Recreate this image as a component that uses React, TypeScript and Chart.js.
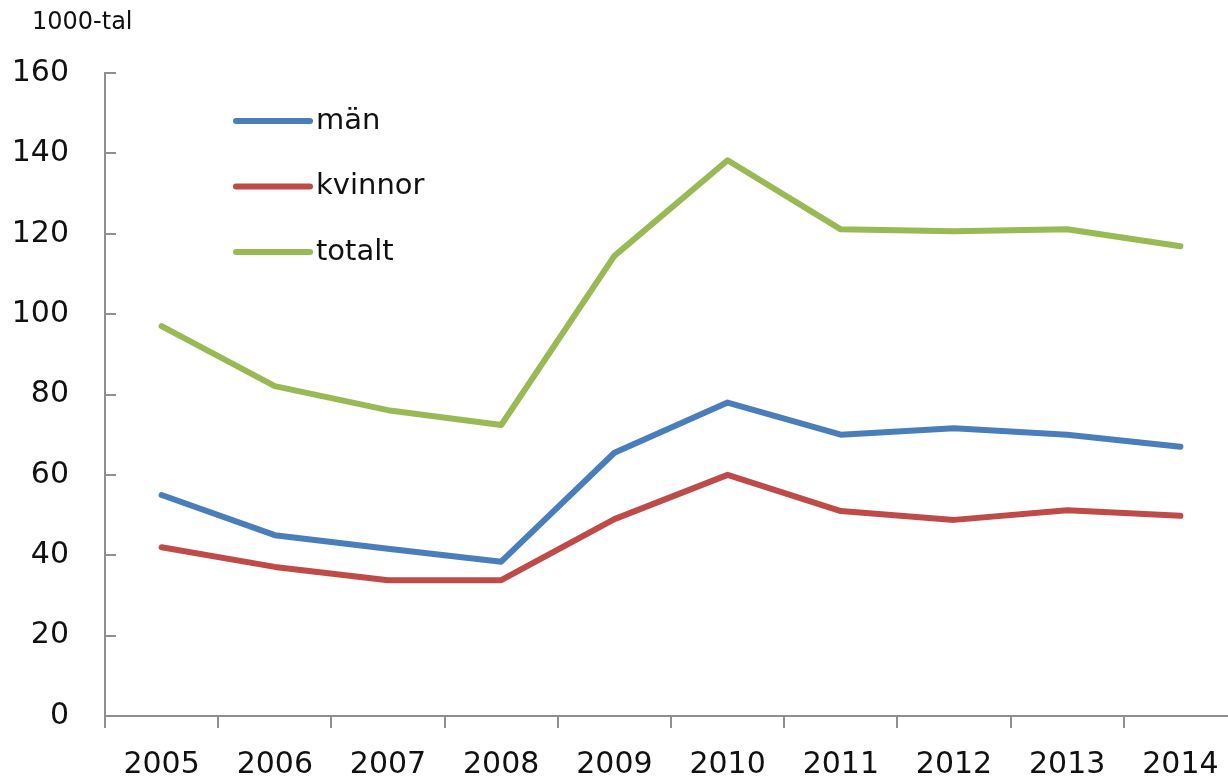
import React, { useEffect, useRef } from "react";
import { Chart, registerables } from "chart.js";

Chart.register(...registerables);

const years = ["2005", "2006", "2007", "2008", "2009", "2010", "2011", "2012", "2013", "2014"];
const man = [55.0, 45.0, 41.6, 38.4, 65.5, 78.0, 70.0, 71.6, 70.0, 67.0];
const kvinnor = [42.0, 37.1, 33.8, 33.8, 49.0, 60.0, 51.0, 48.8, 51.2, 49.8];
const totalt = [97.0, 82.1, 76.1, 72.4, 114.5, 138.3, 121.1, 120.6, 121.1, 116.9];
const seriesLabels = ["män", "kvinnor", "totalt"];
const seriesColors = ["#4A7EBB", "#BE4B48", "#98B954"];
const yTicks = [0, 20, 40, 60, 80, 100, 120, 140, 160];
const unitLabel = "1000-tal";

const FONT = "'DejaVu Sans', sans-serif";
const AXIS = "#8f8f8f";

const extrasPlugin = {
  id: "extras",
  afterDraw(chart: any) {
    const ctx = chart.ctx;
    const y = chart.scales.y;
    const area = chart.chartArea;
    ctx.save();
    ctx.strokeStyle = AXIS;
    ctx.lineWidth = 2;
    yTicks.forEach((v) => {
      const py = Math.round(y.getPixelForValue(v));
      ctx.beginPath();
      ctx.moveTo(area.left, py);
      ctx.lineTo(area.left + 11, py);
      ctx.stroke();
    });
    ctx.fillStyle = "#111";
    ctx.font = `24px ${FONT}`;
    ctx.textAlign = "left";
    ctx.textBaseline = "middle";
    ctx.fillText(unitLabel, 32, 23);
    ctx.font = `29px ${FONT}`;
    chart.data.datasets.forEach((ds: any, i: number) => {
      const ly = 121 + i * 65.5;
      ctx.strokeStyle = ds.borderColor;
      ctx.lineWidth = 6;
      ctx.lineCap = "round";
      ctx.beginPath();
      ctx.moveTo(236, ly);
      ctx.lineTo(310, ly);
      ctx.stroke();
      ctx.fillStyle = "#111";
      ctx.fillText(ds.label, 316, ly);
    });
    ctx.restore();
  },
};

export default function App() {
  const ref = useRef<HTMLCanvasElement>(null);
  useEffect(() => {
    if (!ref.current) return;
    const data = [man, kvinnor, totalt];
    const chart = new Chart(ref.current, {
      type: "line",
      data: {
        labels: years,
        datasets: data.map((d, i) => ({
          label: seriesLabels[i],
          data: d,
          borderColor: seriesColors[i],
          backgroundColor: seriesColors[i],
          borderWidth: 6,
          pointRadius: 0,
          tension: 0,
          borderJoinStyle: "round" as const,
          borderCapStyle: "round" as const,
        })),
      },
      options: {
        animation: false,
        responsive: false,
        layout: { padding: { top: 73, right: 8, bottom: 0, left: 0 } },
        plugins: { legend: { display: false }, tooltip: { enabled: false }, title: { display: false } },
        scales: {
          x: {
            offset: true,
            grid: {
              display: true,
              offset: true,
              drawOnChartArea: false,
              drawTicks: true,
              tickLength: 12,
              color: AXIS,
              lineWidth: 2,
            },
            border: { display: true, color: AXIS, width: 2 },
            ticks: { color: "#111", font: { family: FONT, size: 30 }, padding: 19, maxRotation: 0, autoSkip: false },
            afterFit(scale: any) {
              scale.height = 61;
            },
          },
          y: {
            min: 0,
            max: 160,
            grid: { display: false, drawTicks: false },
            border: { display: true, color: AXIS, width: 2 },
            ticks: { stepSize: 20, color: "#111", font: { family: FONT, size: 30 }, padding: 36 },
            afterFit(scale: any) {
              scale.width = 105;
            },
          },
        },
      },
      plugins: [extrasPlugin],
    });
    return () => chart.destroy();
  }, []);
  return (
    <div style={{ position: "fixed", left: 0, top: 0, width: 1228, height: 777, overflow: "hidden", background: "#fff" }}>
      <canvas ref={ref} width={1245} height={777} style={{ display: "block" }} />
    </div>
  );
}
